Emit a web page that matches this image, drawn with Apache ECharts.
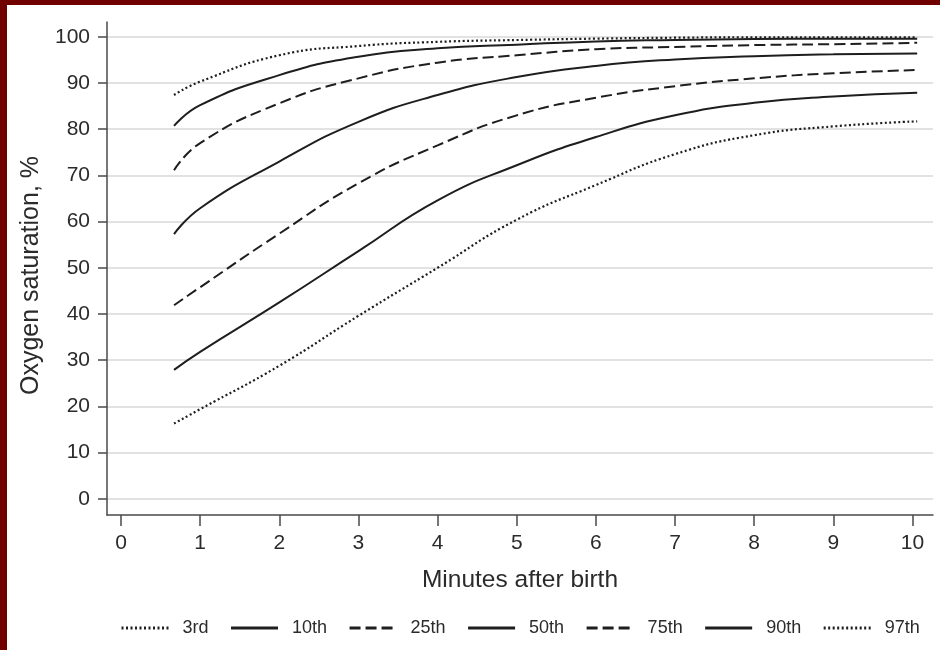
<!DOCTYPE html>
<html>
<head>
<meta charset="utf-8">
<script src="https://cdn.jsdelivr.net/npm/echarts@6/dist/echarts.min.js"></script>
<style>
  html, body { margin: 0; padding: 0; background: #ffffff; }
  #chart { position: absolute; left: 0; top: 0; width: 940px; height: 650px; }
  #bl { position: absolute; left: 0; top: 0; width: 7px; height: 650px; background: #700000; }
  #bt { position: absolute; left: 0; top: 0; width: 940px; height: 5px; background: #700000; }
</style>
</head>
<body>
<div id="chart"></div>
<div id="bl"></div>
<div id="bt"></div>
<script>
// Data
const minutes = [0.67, 1, 2, 3, 4, 5, 6, 7, 8, 9, 10.06];
const p3  = [16.3, 19.4, 28.8, 39.6, 50.0, 60.4, 67.9, 74.6, 78.7, 80.6, 81.7];
const p10 = [27.9, 31.8, 42.5, 53.6, 64.6, 72.2, 78.3, 83.0, 85.7, 87.1, 87.9];
const p25 = [41.9, 45.8, 57.4, 68.3, 76.5, 83.0, 86.8, 89.3, 91.0, 92.1, 92.8];
const p50 = [57.3, 62.9, 73.0, 81.6, 87.4, 91.3, 93.7, 95.1, 95.8, 96.2, 96.4];
const p75 = [71.1, 77.0, 85.6, 91.0, 94.4, 96.0, 97.3, 97.8, 98.2, 98.4, 98.7];
const p90 = [80.7, 85.2, 91.7, 95.7, 97.5, 98.3, 99.0, 99.3, 99.5, 99.6, 99.6];
const p97 = [87.4, 90.3, 96.0, 98.0, 98.9, 99.3, 99.6, 99.8, 99.9, 99.9, 99.9];
const seriesNames = ['3rd', '10th', '25th', '50th', '75th', '90th', '97th'];
const xTicks = [0, 1, 2, 3, 4, 5, 6, 7, 8, 9, 10];
const yTicks = [0, 10, 20, 30, 40, 50, 60, 70, 80, 90, 100];
const xTitle = 'Minutes after birth';
const yTitle = 'Oxygen saturation, %';

const allValues = [p3, p10, p25, p50, p75, p90, p97];
const dotted = [2, 2.5];
const dashed = [11, 5];
const styles = [dotted, 'solid', dashed, 'solid', dashed, 'solid', dotted];
const FONT = '"Liberation Sans", Arial, Helvetica, sans-serif';
const TXT = '#2b2b2b';
const INK = '#1e1e1e';

const chart = echarts.init(document.getElementById('chart'), null, { renderer: 'canvas' });

const series = seriesNames.map((name, i) => ({
  name: name,
  type: 'line',
  data: minutes.map((m, j) => [m, allValues[i][j]]),
  smooth: 0.5,
  symbol: 'none',
  showSymbol: false,
  silent: true,
  animation: false,
  z: 10 - i,
  itemStyle: { color: INK },
  lineStyle: {
    color: INK,
    width: styles[i] === dotted ? 2.2 : 2,
    type: styles[i],
    cap: 'butt'
  }
}));

chart.setOption({
  animation: false,
  backgroundColor: '#ffffff',
  textStyle: { fontFamily: FONT, color: TXT },
  grid: { left: 107, right: 7, top: 22, bottom: 135, outerBoundsMode: 'none', containLabel: false },
  legend: {
    data: seriesNames,
    left: 115,
    top: 614,
    itemWidth: 47,
    itemHeight: 14,
    itemGap: 21,
    itemStyle: { opacity: 0, borderWidth: 0 },
    lineStyle: { width: 3 },
    textStyle: { fontFamily: FONT, fontSize: 18, color: TXT, padding: [0, 0, 0, 9] },
    selectedMode: false
  },
  xAxis: {
    type: 'value',
    min: -0.177,
    max: 10.26,
    name: xTitle,
    nameLocation: 'middle',
    nameGap: 53,
    nameTextStyle: { fontFamily: FONT, fontSize: 24.5, color: TXT },
    axisLine: { show: true, onZero: false, lineStyle: { color: '#4a4a4a', width: 1.5 } },
    axisTick: { show: true, length: 11, customValues: xTicks, lineStyle: { color: '#4a4a4a', width: 1.5 } },
    axisLabel: { show: true, customValues: xTicks, margin: 18, fontFamily: FONT, fontSize: 21, color: TXT },
    splitLine: { show: false }
  },
  yAxis: {
    type: 'value',
    min: -3.5,
    max: 103.2,
    name: yTitle,
    nameLocation: 'middle',
    nameGap: 56,
    nameRotate: 90,
    nameTextStyle: { fontFamily: FONT, fontSize: 25, color: TXT, padding: [0, 14, 0, 0] },
    axisLine: { show: true, onZero: false, lineStyle: { color: '#4a4a4a', width: 1.5 } },
    axisTick: { show: true, length: 9, customValues: yTicks, lineStyle: { color: '#4a4a4a', width: 1.5 } },
    axisLabel: { show: true, customValues: yTicks, margin: 17, fontFamily: FONT, fontSize: 21, color: TXT },
    splitLine: { show: true, lineStyle: { color: '#e2e2e2', width: 2 } }
  },
  series: series
});
</script>
</body>
</html>
